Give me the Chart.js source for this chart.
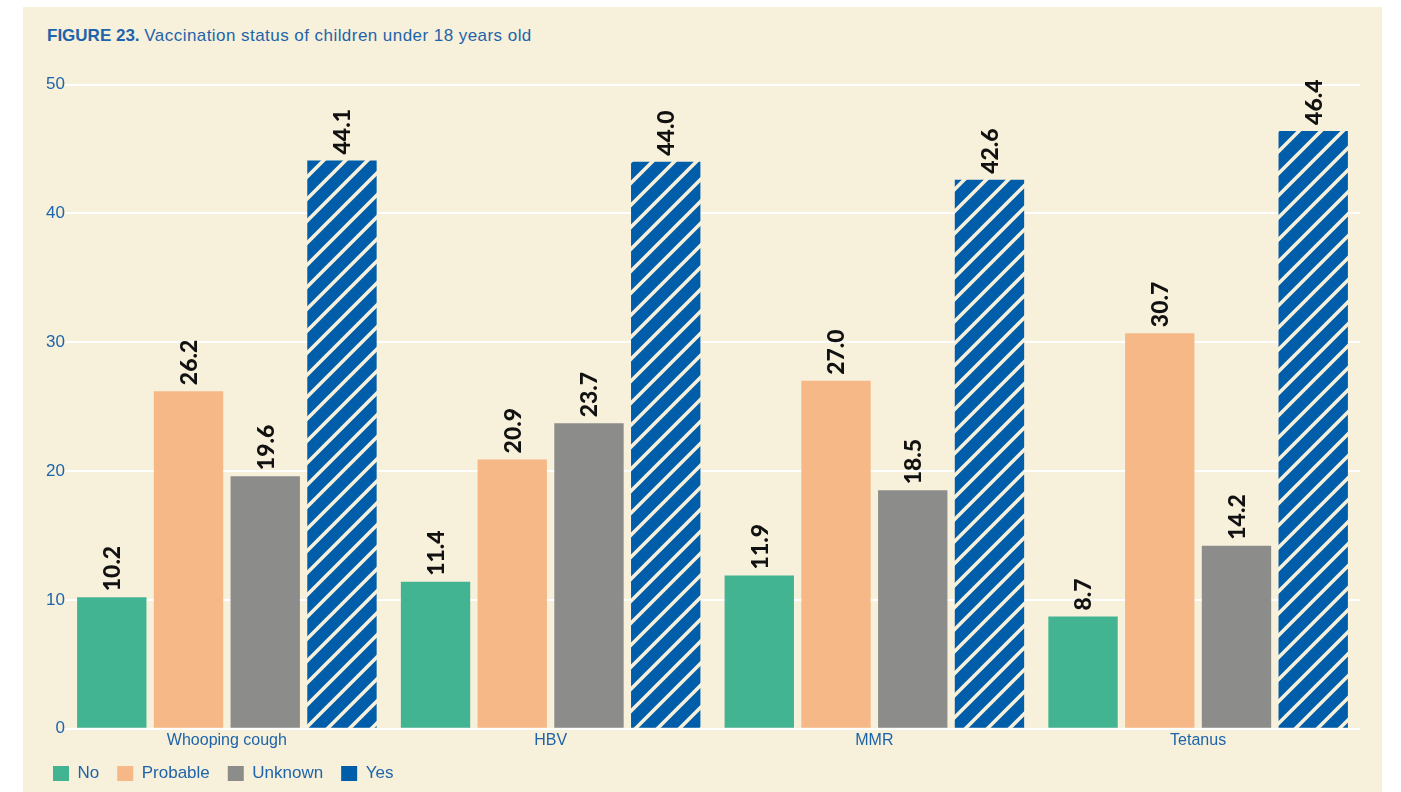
<!DOCTYPE html>
<html>
<head>
<meta charset="utf-8">
<script src="https://cdn.jsdelivr.net/npm/chart.js@4"></script>
<style>
  html, body { margin:0; padding:0; background:#ffffff; width:1401px; height:792px; overflow:hidden; }
  #panel { position:absolute; left:23px; top:7px; width:1359px; height:800px; background:#F7F0DA; }
  #title { position:absolute; left:47px; top:26px; font-family:"Liberation Sans", Arial, sans-serif; font-size:17px; color:#1E64AA; white-space:nowrap; }
  #title b { font-weight:bold; }
  #title span { letter-spacing:0.45px; }
  #c { position:absolute; left:0; top:0; }
</style>
</head>
<body>
<div id="panel"></div>
<div id="title"><b>FIGURE 23.</b> <span>Vaccination status of children under 18 years old</span></div>
<canvas id="c" width="1401" height="792"></canvas>
<script>
const categories = ["Whooping cough", "HBV", "MMR", "Tetanus"];
const seriesNames = ["No", "Probable", "Unknown", "Yes"];
const noValues = [10.2, 11.4, 11.9, 8.7];
const probableValues = [26.2, 20.9, 27.0, 30.7];
const unknownValues = [19.6, 23.7, 18.5, 14.2];
const yesValues = [44.1, 44.0, 42.6, 46.4];
const yTicks = [0, 10, 20, 30, 40, 50];

const CREAM = "#F7F0DA";
const BLUE = "#005DAA";
const TEXT_BLUE = "#1E64AA";
const LABEL_FONT = "'Liberation Sans', Arial, sans-serif";

function makeHatch() {
  const s = 22;
  const p = document.createElement("canvas");
  p.width = s; p.height = s;
  const g = p.getContext("2d");
  g.fillStyle = BLUE;
  g.fillRect(0, 0, s, s);
  g.strokeStyle = CREAM;
  g.lineWidth = 3.6;
  g.beginPath();
  g.moveTo(-s, s); g.lineTo(s, -s);
  g.moveTo(0, s); g.lineTo(s, 0);
  g.moveTo(0, 2 * s); g.lineTo(2 * s, 0);
  g.stroke();
  return document.getElementById("c").getContext("2d").createPattern(p, "repeat");
}
const hatch = makeHatch();

const valueLabels = {
  id: "valueLabels",
  afterDatasetsDraw(chart) {
    const ctx = chart.ctx;
    ctx.save();
    ctx.fillStyle = "#111111";
    ctx.font = "900 23px Lato, Roboto, 'DejaVu Sans', sans-serif";
    ctx.textAlign = "left";
    ctx.textBaseline = "middle";
    chart.data.datasets.forEach((ds, di) => {
      const meta = chart.getDatasetMeta(di);
      meta.data.forEach((bar, i) => {
        const v = ds.data[i];
        ctx.save();
        ctx.translate(bar.x + 1, bar.y - 6);
        ctx.rotate(-Math.PI / 2);
        ctx.fillText(v.toFixed(1), 0, 0);
        ctx.restore();
      });
    });
    ctx.restore();
  }
};

const categoryLabels = {
  id: "categoryLabels",
  afterDraw(chart) {
    const ctx = chart.ctx;
    const xs = chart.scales.x;
    ctx.save();
    ctx.fillStyle = TEXT_BLUE;
    ctx.font = "16px " + LABEL_FONT;
    ctx.textAlign = "center";
    ctx.textBaseline = "middle";
    categories.forEach((c, i) => {
      ctx.fillText(c, xs.getPixelForValue(i), chart.chartArea.bottom + 12);
    });
    ctx.restore();
  }
};

const common = { borderWidth: 0, categoryPercentage: 0.948, barPercentage: 0.904 };

new Chart(document.getElementById("c"), {
  type: "bar",
  data: {
    labels: categories,
    datasets: [
      Object.assign({ label: seriesNames[0], data: noValues, backgroundColor: "#43B492" }, common),
      Object.assign({ label: seriesNames[1], data: probableValues, backgroundColor: "#F6B887" }, common),
      Object.assign({ label: seriesNames[2], data: unknownValues, backgroundColor: "#8C8C8B" }, common),
      Object.assign({ label: seriesNames[3], data: yesValues, backgroundColor: hatch }, common)
    ]
  },
  plugins: [valueLabels, categoryLabels],
  options: {
    responsive: false,
    devicePixelRatio: 1,
    animation: false,
    layout: { padding: { left: 35, right: 41, top: 84.5, bottom: 0 } },
    plugins: {
      title: { display: false },
      tooltip: { enabled: false },
      legend: {
        position: "bottom",
        align: "start",
        labels: {
          boxWidth: 16,
          boxHeight: 15,
          padding: 18,
          color: TEXT_BLUE,
          font: { family: LABEL_FONT, size: 17 },
          generateLabels(chart) {
            const cols = ["#43B492", "#F6B887", "#8C8C8B", BLUE];
            return chart.data.datasets.map((ds, i) => ({
              text: ds.label,
              fillStyle: cols[i],
              strokeStyle: "rgba(0,0,0,0)",
              lineWidth: 0,
              fontColor: TEXT_BLUE,
              datasetIndex: i,
              hidden: false
            }));
          }
        }
      }
    },
    scales: {
      x: {
        grid: { display: false, drawTicks: false },
        border: { display: false },
        ticks: { display: false },
        afterFit(scale) { scale.height = 18.3; }
      },
      y: {
        min: 0,
        max: 50,
        afterBuildTicks(scale) { scale.ticks = yTicks.map(v => ({ value: v })); },
        grid: { color: "#FFFFFF", lineWidth: 2, drawTicks: false },
        border: { display: false },
        ticks: {
          color: TEXT_BLUE,
          padding: 0,
          font: { family: LABEL_FONT, size: 17 }
        },
        afterFit(scale) { scale.width = 30; }
      }
    }
  }
});
</script>
</body>
</html>
